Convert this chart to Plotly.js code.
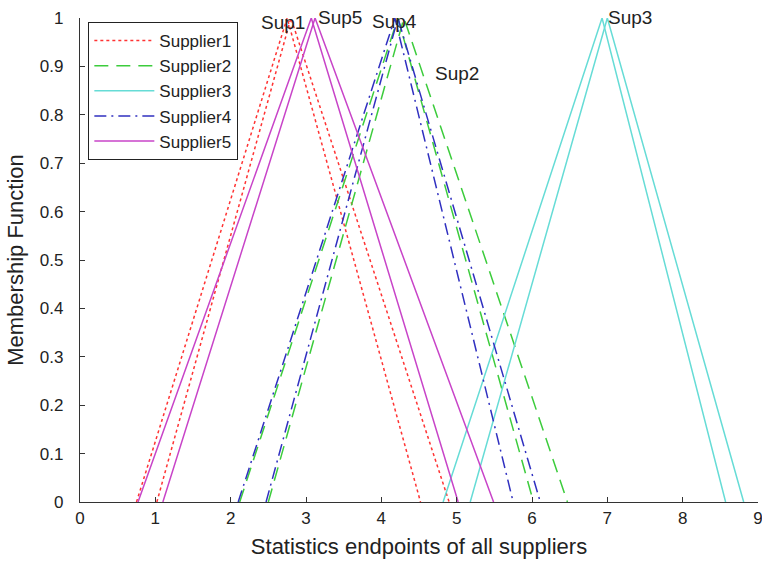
<!DOCTYPE html>
<html>
<head>
<meta charset="utf-8">
<script src="https://cdn.plot.ly/plotly-3.0.1.min.js"></script>
<style>html,body{margin:0;padding:0;background:#fff}#chart{width:762px;height:566px}</style>
</head>
<body>
<div id="chart"></div>
<script>
// Triangular membership functions: [left foot, peak, right foot], two per supplier
var memb = [0, 1, 0];
var sup1A = [0.75, 2.75, 4.52];
var sup1B = [1.02, 2.80, 4.90];
var sup2A = [2.12, 4.22, 6.02];
var sup2B = [2.50, 4.30, 6.47];
var sup3A = [4.82, 6.93, 8.57];
var sup3B = [5.18, 7.00, 8.81];
var sup4A = [2.10, 4.18, 5.75];
var sup4B = [2.47, 4.22, 6.11];
var sup5A = [0.77, 3.07, 5.02];
var sup5B = [1.10, 3.12, 5.49];

var names = ['Supplier1', 'Supplier2', 'Supplier3', 'Supplier4', 'Supplier5'];
var labels = ['Sup1', 'Sup2', 'Sup3', 'Sup4', 'Sup5'];
var labelX = [2.69, 5.00, 7.30, 4.18, 3.45];
var labelY = [0.990, 0.886, 1.002, 0.992, 1.002];

var styles = [
  {color: '#ff3333', dash: 'dot'},
  {color: '#3ccc3c', dash: '14px,8px'},
  {color: '#66dcd6', dash: 'solid'},
  {color: '#3030c0', dash: '12px,5px,2px,5px'},
  {color: '#c844c8', dash: 'solid'}
];
var pairs = [[sup1A, sup1B], [sup2A, sup2B], [sup3A, sup3B], [sup4A, sup4B], [sup5A, sup5B]];

var traces = [];
pairs.forEach(function (p, i) {
  p.forEach(function (tri, j) {
    traces.push({
      x: tri, y: memb, type: 'scatter', mode: 'lines',
      name: names[i], legendgroup: names[i], showlegend: j === 0,
      line: {color: styles[i].color, dash: styles[i].dash, width: 1.5},
      hoverinfo: 'skip'
    });
  });
});

var annotations = labels.map(function (t, i) {
  return {x: labelX[i], y: labelY[i], xref: 'x', yref: 'paper', text: t, showarrow: false,
          font: {family: 'Arial, Liberation Sans, sans-serif', size: 19, color: '#222'},
          xanchor: 'center', yanchor: 'middle'};
});

var layout = {
  width: 762, height: 566,
  margin: {l: 80, r: 4, t: 18, b: 64},
  paper_bgcolor: '#fff', plot_bgcolor: '#fff',
  font: {family: 'Arial, Liberation Sans, sans-serif', size: 17, color: '#222'},
  showlegend: true,
  legend: {x: 0.012, y: 0.992, xanchor: 'left', yanchor: 'top', bgcolor: '#fff',
           bordercolor: '#222', borderwidth: 1.2, itemwidth: 60,
           font: {size: 17, color: '#222'}, tracegroupgap: 0},
  xaxis: {range: [0, 9], dtick: 1, tick0: 0, showgrid: false, zeroline: false,
          showline: true, linecolor: '#333', linewidth: 1.2,
          ticks: 'inside', ticklen: 5, tickcolor: '#333', mirror: false,
          ticklabeloverflow: 'allow', ticklabelstandoff: 0,
          tickfont: {size: 17, color: '#222'},
          title: {text: 'Statistics endpoints of all suppliers', font: {size: 22, color: '#222'}, standoff: 12}},
  yaxis: {range: [0, 1], dtick: 0.1, tick0: 0, showgrid: false, zeroline: false,
          showline: true, linecolor: '#333', linewidth: 1.2,
          ticks: 'inside', ticklen: 5, tickcolor: '#333',
          ticklabeloverflow: 'allow', ticklabelstandoff: 12,
          tickfont: {size: 17, color: '#222'},
          title: {text: 'Membership Function', font: {size: 22, color: '#222'}, standoff: 10}},
  annotations: annotations
};

Plotly.newPlot('chart', traces, layout, {displayModeBar: false, staticPlot: true});
</script>
</body>
</html>
